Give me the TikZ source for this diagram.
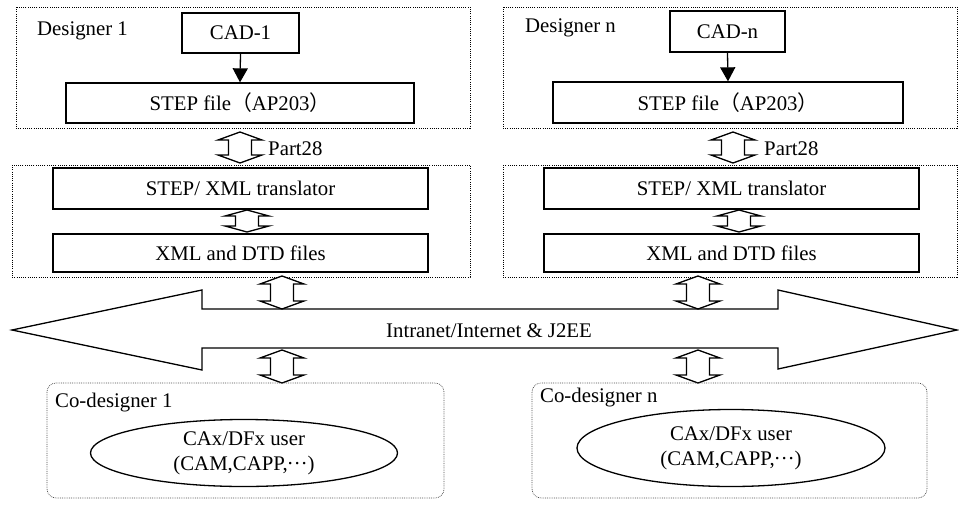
\documentclass[tikz,border=0pt]{standalone}
\usepackage{fontspec}
\setmainfont{Liberation Serif}
\newfontfamily\cjk{Noto Sans CJK SC}
\usetikzlibrary{calc,arrows.meta,shapes.geometric}
\newcommand{\middots}{\raisebox{0.27em}{\kern-0.05em…}}
\tikzset{
  txt/.style={font=\fontsize{20.8}{25}\selectfont},
  box/.style={draw, line width=1.3pt, inner sep=0pt, txt, fill=white},
  dotbox/.style={draw, line width=1pt, dash pattern=on 1pt off 1.2pt},
  cobox/.style={draw=black!70, line width=0.7pt, dash pattern=on 0.8pt off 1pt, rounded corners=9pt},
  ell/.style={draw, ellipse, line width=1.3pt, inner sep=0pt, txt, align=center},
  hollow/.style={draw, line width=1.3pt, fill=white, line join=miter},
  solidarrow/.style={line width=1.3pt, -{Triangle[width=15pt,length=14pt]}},
  lbl/.style={txt, inner sep=0pt, anchor=base west}
}
% hollow up-down arrow between two named coordinates (top, bottom)
\newcommand{\udarrow}[3][8]{%
  \draw[hollow] (#2) -- ($(#2)+(22,#1)$) -- ($(#2)+(11.5,#1)$) -- ($(#3)+(11.5,-#1)$)
    -- ($(#3)+(22,-#1)$) -- (#3) -- ($(#3)+(-22,-#1)$) -- ($(#3)+(-11.5,-#1)$)
    -- ($(#2)+(-11.5,#1)$) -- ($(#2)+(-22,#1)$) -- cycle;}
\begin{document}
\begin{tikzpicture}[x=1pt,y=-1pt]
\useasboundingbox (0,0) rectangle (959,509);

% designer containers
\draw[dotbox] (16,7) rectangle (470,128);
\draw[dotbox] (503,7) rectangle (957,128);
\draw[dotbox] (12,165) rectangle (470,277);
\draw[dotbox] (503,165) rectangle (957,277);

\node[lbl] (d1) at (37,35) {Designer 1};
\node[lbl] (dn) at (525,32) {Designer n};

\node[box, minimum width=117pt, minimum height=40pt] (cad1) at (240.5,33) {CAD-1};
\node[box, minimum width=348pt, minimum height=40pt] (step1) at (240,103) {STEP file{\cjk （}AP203{\cjk ）}};
\node[box, minimum width=115pt, minimum height=41pt] (cadn) at (727.5,31.5) {CAD-n};
\node[box, minimum width=350pt, minimum height=41pt] (stepn) at (728,102.5) {STEP file{\cjk （}AP203{\cjk ）}};

\draw[solidarrow] (cad1.south) -- (step1.north);
\draw[solidarrow] (cadn.south) -- (stepn.north);

\node[box, minimum width=375pt, minimum height=41pt] (tr1) at (240.5,188.5) {STEP/ XML translator};
\node[box, minimum width=375pt, minimum height=38pt] (xml1) at (240.5,253) {XML and DTD files};
\node[box, minimum width=375pt, minimum height=41pt] (trn) at (731.5,188.5) {STEP/ XML translator};
\node[box, minimum width=375pt, minimum height=38pt] (xmln) at (731.5,253) {XML and DTD files};

% Part28 arrows
\coordinate (p1t) at (240,132); \coordinate (p1b) at (240,163);
\coordinate (pnt) at (733,132); \coordinate (pnb) at (733,163);
\udarrow{p1t}{p1b}
\udarrow{pnt}{pnb}
\node[lbl] (p28a) at (268,155) {Part28};
\node[lbl] (p28b) at (764,155) {Part28};

% inner arrows
\coordinate (i1t) at (247,210); \coordinate (i1b) at (247,232);
\coordinate (int) at (739,210); \coordinate (inb) at (739,232);
\udarrow[6]{i1t}{i1b}
\udarrow[6]{int}{inb}

% big double arrow (network)
\draw[line width=1.3pt, line join=miter] (12,330) -- (202,290) -- (202,309) -- (778,309) -- (778,290)
  -- (957,330) -- (778,369) -- (778,348) -- (202,348) -- (202,370) -- cycle;
\node[txt, inner sep=0pt, anchor=base] (net) at (489,337) {Intranet/Internet \& J2EE};

% arrows to/from network
\coordinate (u1t) at (282,276); \coordinate (u1b) at (282,309);
\coordinate (unt) at (698,276); \coordinate (unb) at (698,309);
\coordinate (l1t) at (282,350); \coordinate (l1b) at (282,383);
\coordinate (lnt) at (698,350); \coordinate (lnb) at (698,383);
\udarrow{u1t}{u1b}
\udarrow{unt}{unb}
\udarrow{l1t}{l1b}
\udarrow{lnt}{lnb}

% co-designers
\draw[cobox] (47,383) rectangle (444,498);
\draw[cobox] (532,383) rectangle (927,498);
\node[lbl] (c1) at (55,407) {Co-designer 1};
\node[lbl] (cn) at (540,402) {Co-designer n};

\node[ell, minimum width=307pt, minimum height=67pt] (e1) at (244,453) {CAx/DFx user\\(CAM,CAPP,\middots)};
\node[ell, minimum width=308pt, minimum height=77pt] (en) at (731,448) {CAx/DFx user\\(CAM,CAPP,\middots)};
\end{tikzpicture}
\end{document}
